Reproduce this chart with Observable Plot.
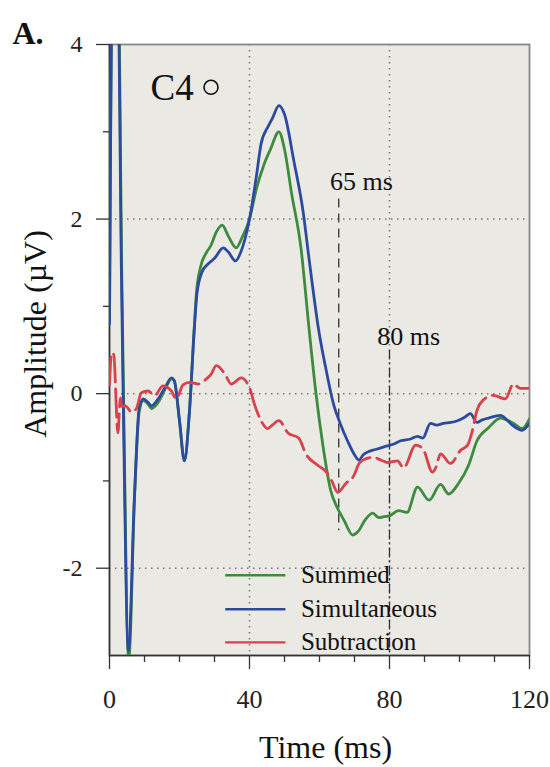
<!DOCTYPE html>
<html>
<head>
<meta charset="utf-8">
<script src="https://cdn.jsdelivr.net/npm/d3@7"></script>
<script src="https://cdn.jsdelivr.net/npm/@observablehq/plot@0.6"></script>
<style>
  html, body { margin: 0; padding: 0; background: #fff; }
</style>
</head>
<body>
<div id="chart"></div>
<script>
// Time (ms), amplitude (µV)
const summed = [[0,0.8],[0.8,4.6],[2.5,4.6],[3.5,1.4],[4,0],[5.5,-3.05],[7.1,-1.25],[8.5,-0.2],[9.7,-0.08],[11,-0.12],[12,-0.17],[13.9,-0.1],[16,0.06],[17.7,0.17],[18.5,0.15],[20,-0.31],[21.4,-0.77],[22.8,-0.23],[24.2,0.75],[24.8,1.14],[26,1.45],[27.6,1.61],[29,1.7],[30.5,1.85],[32.2,1.93],[34,1.8],[36.2,1.67],[38,1.8],[40,2.0],[42,2.35],[44.2,2.63],[46,2.8],[48.4,3.0],[50,2.8],[52,2.3],[54.7,1.67],[57,0.75],[59,0.0],[61,-0.6],[63.2,-1.11],[65,-1.3],[67,-1.45],[69.5,-1.62],[71,-1.58],[73,-1.45],[75.2,-1.37],[77,-1.42],[78.4,-1.41],[80,-1.40],[82.6,-1.34],[85,-1.36],[88,-1.07],[91.3,-1.22],[94.6,-1.04],[96.9,-1.15],[99.7,-1.03],[102.6,-0.82],[105,-0.54],[108.3,-0.39],[111.7,-0.28],[115.4,-0.34],[117.9,-0.40],[120,-0.29]];
const simultaneous = [[0,0.8],[0.8,4.6],[2.4,4.6],[3.4,1.4],[3.9,0],[5.4,-2.95],[7.1,-1.2],[8.5,-0.16],[9.7,-0.06],[11,-0.1],[12,-0.14],[13.9,-0.06],[16,0.08],[17.7,0.18],[18.5,0.15],[20,-0.31],[21.4,-0.77],[22.8,-0.23],[24.2,0.72],[25,1.15],[26.5,1.4],[28,1.48],[30,1.55],[32.5,1.67],[34,1.62],[36,1.52],[37.5,1.62],[40,2.0],[42,2.5],[43.3,2.86],[45.3,3.06],[46.5,3.15],[48.4,3.3],[50,3.2],[52.7,2.66],[55.3,2.09],[57,1.55],[59.8,0.72],[62,0.25],[64,-0.12],[66,-0.35],[68,-0.54],[70,-0.7],[71.3,-0.76],[72.5,-0.7],[73.7,-0.67],[76,-0.64],[78.4,-0.61],[81,-0.58],[83.2,-0.54],[86,-0.52],[88,-0.49],[89.5,-0.51],[91.7,-0.34],[93.5,-0.36],[95.4,-0.34],[97.5,-0.33],[99.4,-0.31],[101.5,-0.27],[103.1,-0.23],[105,-0.33],[106.5,-0.3],[108.3,-0.28],[111.7,-0.25],[113.5,-0.3],[115.4,-0.37],[117.9,-0.42],[120,-0.34]];
const subtraction = [[0,0.1],[0.6,0.47],[1.2,0.45],[2.4,-0.45],[3.1,-0.05],[3.6,-0.15],[4.5,-0.14],[6.3,-0.21],[7.7,-0.17],[9.1,0.01],[11,0.03],[12.9,-0.02],[15.3,0.09],[17.7,0.03],[19.1,-0.06],[21,0.1],[22.9,0.13],[25.3,0.11],[27.1,0.15],[29,0.22],[30.5,0.32],[32.9,0.23],[34.8,0.11],[37.6,0.18],[40,0.07],[41.4,-0.12],[43.3,-0.31],[45.2,-0.4],[46.5,-0.36],[48.4,-0.31],[51,-0.45],[54.1,-0.51],[56.1,-0.69],[59.5,-0.82],[62,-0.9],[63.5,-1.0],[65.2,-1.13],[67.5,-1.03],[69.8,-0.94],[71.3,-0.8],[73,-0.75],[75.5,-0.73],[77.5,-0.76],[79.5,-0.79],[82.3,-0.77],[84,-0.85],[87.5,-0.59],[89.5,-0.63],[92.3,-0.9],[93.2,-0.85],[94.6,-0.69],[97.4,-0.8],[100.3,-0.65],[102.3,-0.59],[103.7,-0.42],[105,-0.19],[106.6,-0.08],[109.7,-0.02],[113.1,-0.06],[115.4,0.11],[117.4,0.06],[120,0.06]];

const seriesNames = ["Summed", "Simultaneous", "Subtraction"];
const seriesColors = ["#3d8c3d", "#2b4c9e", "#d9414c"];
const xMajorTicks = [0, 40, 80, 120];
const xMinorTicks = [10, 20, 30, 50, 60, 70, 90, 100, 110];
const yMajorTicks = [4, 2, 0, -2];
const yMinorTicks = [3, 1, -1];
const xGrid = [40, 80];
const yGrid = [2, 0, -2];
// latency markers
const markers = [
  {label: "65 ms", t: 65.5, y1: 2.23, y2: -1.57, lx: 72, ly: 2.33},
  {label: "80 ms", t: 80, y1: 0.5, y2: -3, lx: 85.5, ly: 0.56}
];
// legend rows
const legendRows = seriesNames.map((name, i) => ({name, color: seriesColors[i], x1: 33.2, x2: 50.4, tx: 54.7, y: [-2.08, -2.47, -2.85][i]}));
const siteLabel = {text: "C4", t: 11.7, v: 3.36, ct: 29, cv: 3.51};

const serif = "'Liberation Serif', 'Times New Roman', serif";
const fmt = d => String(d);

const chart = Plot.plot({
  width: 550,
  height: 767,
  marginTop: 44,
  marginBottom: 112,
  marginLeft: 109,
  marginRight: 21,
  style: {fontFamily: serif, fontSize: "24px", color: "#222", background: "#fff"},
  x: {domain: [0, 120]},
  y: {domain: [-3, 4]},
  marks: [
    Plot.frame({fill: "#ebe9e4", stroke: null}),
    Plot.ruleX(xGrid, {stroke: "#777", strokeWidth: 1.5, strokeDasharray: "1.5,4.5"}),
    Plot.ruleY(yGrid, {stroke: "#777", strokeWidth: 1.5, strokeDasharray: "1.5,4.5"}),
    Plot.frame({stroke: "#888", strokeWidth: 1.8}),
    Plot.ruleX([0], {stroke: "#333", strokeWidth: 1.5}),
    Plot.ruleY([-3], {stroke: "#333", strokeWidth: 1.5}),
    Plot.axisX({ticks: xMajorTicks, tickFormat: fmt, tickSize: 14, tickPadding: 20, fontSize: 26, label: null, stroke: "#333", strokeWidth: 1.3}),
    Plot.axisX({ticks: xMinorTicks, tickSize: 7, tickFormat: () => "", label: null, stroke: "#333", strokeWidth: 1.3}),
    Plot.axisY({ticks: yMajorTicks, tickFormat: fmt, tickSize: 13, tickPadding: 14, fontSize: 24, label: null, stroke: "#333", strokeWidth: 1.3}),
    Plot.axisY({ticks: yMinorTicks, tickSize: 6, tickFormat: () => "", label: null, stroke: "#333", strokeWidth: 1.3}),
    // latency markers
    Plot.ruleX([markers[0]], {x: "t", y1: "y1", y2: "y2", stroke: "#333", strokeWidth: 1.3, strokeDasharray: "9,6"}),
    Plot.ruleX([markers[1]], {x: "t", y1: "y1", y2: "y2", stroke: "#333", strokeWidth: 1.3, strokeDasharray: "10,3,2,3"}),
    Plot.text(markers, {x: "lx", y: "ly", text: "label", fontSize: 26, textAnchor: "middle", lineAnchor: "bottom", fill: "#111"}),
    // curves
    Plot.line(summed, {x: d => d[0], y: d => d[1], stroke: seriesColors[0], strokeWidth: 2.8, curve: "monotone-x", clip: true}),
    Plot.line(simultaneous, {x: d => d[0], y: d => d[1], stroke: seriesColors[1], strokeWidth: 2.8, curve: "monotone-x", clip: true}),
    Plot.line(subtraction, {x: d => d[0], y: d => d[1], stroke: seriesColors[2], strokeWidth: 2.8, strokeDasharray: "28,7", curve: "monotone-x", clip: true}),
    // legend
    Plot.ruleY(legendRows, {y: "y", x1: "x1", x2: "x2", stroke: "color", strokeWidth: 2.4, strokeDasharray: (d, i) => i === 2 ? "33,9" : null}),
    Plot.text(legendRows, {x: "tx", y: "y", text: "name", fontSize: 25, textAnchor: "start", lineAnchor: "middle", fill: "#111"}),
    // site label
    Plot.text([siteLabel], {x: "t", y: "v", text: "text", fontSize: 37, textAnchor: "start", lineAnchor: "bottom", fill: "#111"}),
    Plot.dot([siteLabel], {x: "ct", y: "cv", r: 7, stroke: "#111", strokeWidth: 1.6, fill: "none"}),
    // panel letter and axis titles
    Plot.text(["A."], {frameAnchor: "top-left", text: d => d, dx: -97, dy: -1, fontSize: 32, fontWeight: "bold", textAnchor: "start", lineAnchor: "bottom", fill: "#111"}),
    Plot.text(["Time (ms)"], {frameAnchor: "bottom", text: d => d, dx: 6, dy: 102, fontSize: 32, textAnchor: "middle", lineAnchor: "bottom", fill: "#111"}),
    Plot.text(["Amplitude (\u00b5V)"], {frameAnchor: "left", text: d => d, dx: -64, dy: -16, rotate: -90, fontSize: 32, textAnchor: "middle", lineAnchor: "bottom", fill: "#111"})
  ]
});
document.getElementById("chart").appendChild(chart);
</script>
</body>
</html>
